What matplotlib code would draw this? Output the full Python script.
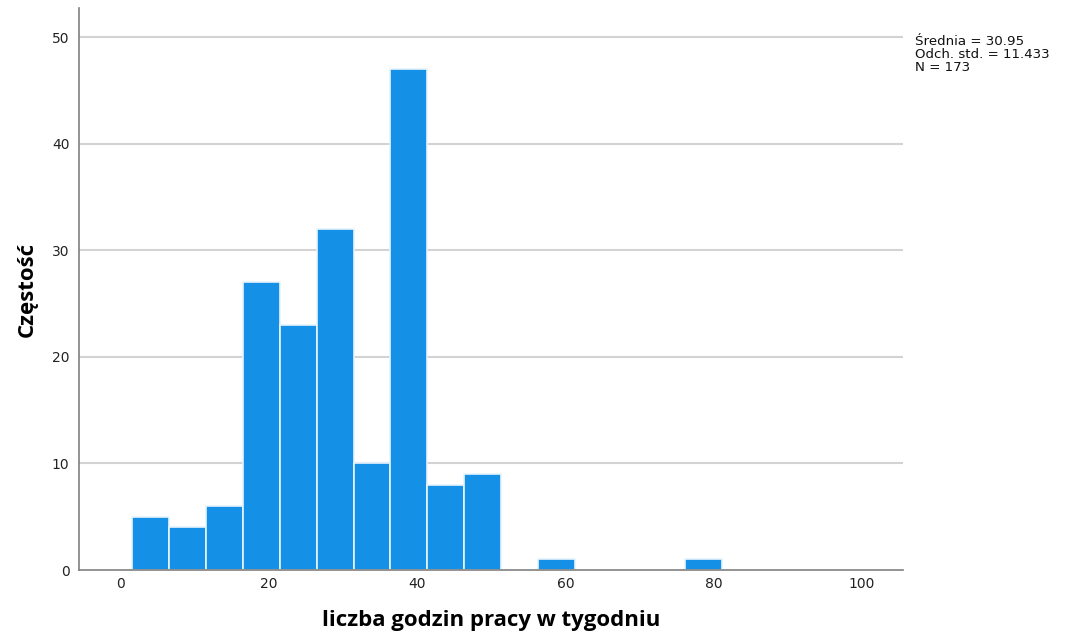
import matplotlib.pyplot as plt
import numpy as np

# histogram counts (bins of ~5 hours)
bin_start = 1.6
bin_width = 4.97
counts = [5, 4, 6, 27, 23, 32, 10, 47, 8, 9, 0, 1, 0, 0, 0, 1]
x_ticks = [0, 20, 40, 60, 80, 100]
y_ticks = [0, 10, 20, 30, 40, 50]
stats_lines = ["Średnia = 30.95", "Odch. std. = 11.433", "N = 173"]

bar_color = '#1490E6'
grid_color = '#d3d3d3'
axis_color = '#808080'

fig = plt.figure(figsize=(10.71, 6.32), dpi=100)
ax = fig.add_axes([0.074, 0.098, 0.769, 0.889])

counts = np.array(counts)
edges = bin_start + bin_width * np.arange(len(counts))
nz = counts > 0  # empty bins draw nothing
ax.bar(edges[nz], counts[nz], width=bin_width, align='edge', color=bar_color,
       edgecolor='#e8f3fc', linewidth=1.2, zorder=3)

ax.set_xlim(-5.58, 105.5)
ax.set_ylim(0, 52.7)
ax.set_xticks(x_ticks)
ax.set_yticks(y_ticks)
ax.tick_params(length=0, labelsize=10, labelcolor='#222222')
ax.tick_params(axis='y', pad=7)
ax.tick_params(axis='x', pad=5)

for y in y_ticks[1:]:
    ax.axhline(y, color=grid_color, linewidth=1.5, zorder=1)

for side in ['top', 'right']:
    ax.spines[side].set_visible(False)
for side in ['left', 'bottom']:
    ax.spines[side].set_color(axis_color)
    ax.spines[side].set_linewidth(1.2)
    ax.spines[side].set_zorder(4)

ax.set_ylabel('Częstość', fontsize=16, fontweight='bold', family='Open Sans', labelpad=10)
ax.set_xlabel('liczba godzin pracy w tygodniu', fontsize=16, fontweight='bold',
              family='Open Sans', labelpad=14)

fig.text(0.854, 0.944, "\n".join(stats_lines), fontsize=9.6, va='top', ha='left',
         linespacing=1.0, color='#111111')

fig.savefig('out.png', dpi=100)
